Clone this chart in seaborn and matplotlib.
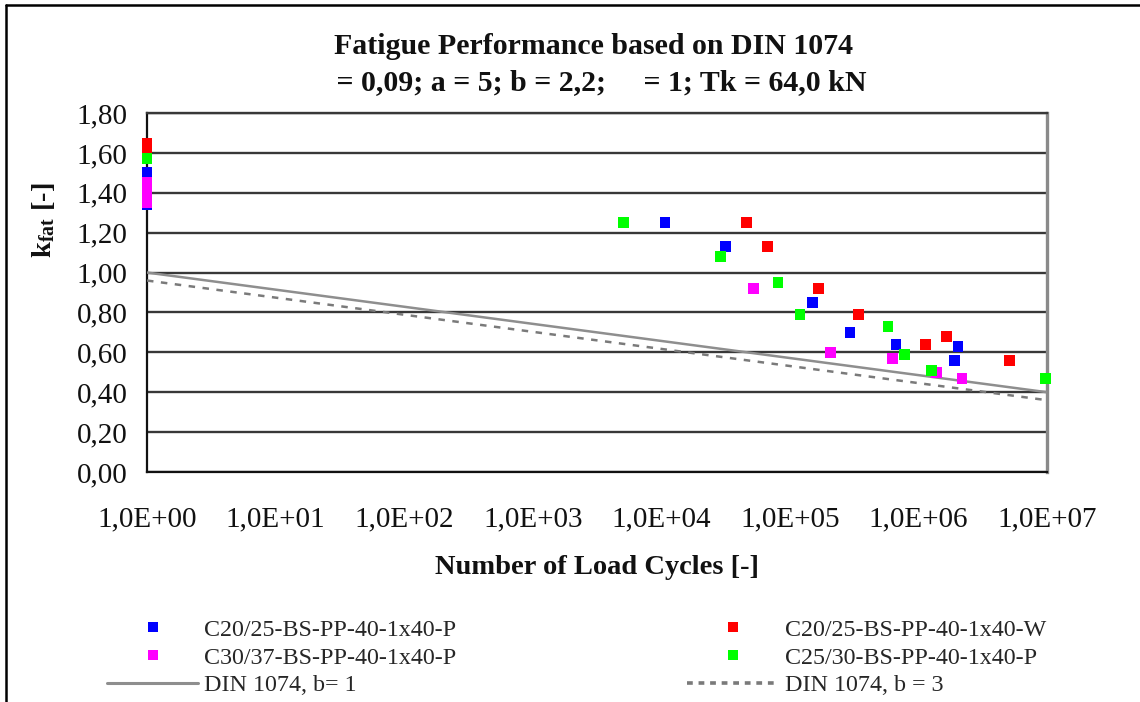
import numpy as np
import pandas as pd
import seaborn as sns
import matplotlib
matplotlib.use("Agg")
import matplotlib.pyplot as plt
from matplotlib.lines import Line2D
from matplotlib.ticker import FixedLocator, FuncFormatter, NullLocator

# ---- test series: number of load cycles vs. fatigue factor ----
series_names = [
    "C20/25-BS-PP-40-1x40-P",
    "C20/25-BS-PP-40-1x40-W",
    "C30/37-BS-PP-40-1x40-P",
    "C25/30-BS-PP-40-1x40-P",
]
series_colors = ["#0000FF", "#FF0000", "#FF00FF", "#00FF00"]

blue_cycles = [1, 1, 10700, 31700, 151000, 293000, 668000, 1.91e6, 2.03e6]
blue_kfat = [1.50, 1.34, 1.25, 1.13, 0.85, 0.70, 0.64, 0.56, 0.63]

red_cycles = [1, 1, 46000, 67000, 168000, 344000, 1.14e6, 1.66e6, 5.1e6]
red_kfat = [1.65, 1.62, 1.25, 1.13, 0.92, 0.79, 0.64, 0.68, 0.56]

magenta_cycles = [1, 1, 1, 52000, 208000, 632000, 1.39e6, 2.18e6]
magenta_kfat = [1.45, 1.40, 1.35, 0.92, 0.60, 0.57, 0.50, 0.47]

green_cycles = [1, 5100, 28700, 81000, 120000, 580000, 780000, 1.27e6, 9.7e6]
green_kfat = [1.57, 1.25, 1.08, 0.95, 0.79, 0.73, 0.59, 0.51, 0.47]

# ---- DIN 1074 design curves ----
din_cycles = [1, 1e7]
din_b1 = [1.00, 0.40]
din_b3 = [0.96, 0.36]

x_ticks = [1e0, 1e1, 1e2, 1e3, 1e4, 1e5, 1e6, 1e7]
y_ticks = [0.0, 0.2, 0.4, 0.6, 0.8, 1.0, 1.2, 1.4, 1.6, 1.8]

title_line1 = "Fatigue Performance based on DIN 1074"
title_line2 = " = 0,09; a = 5; b = 2,2;     = 1; Tk = 64,0 kN"

points = pd.concat(
    [
        pd.DataFrame({"cycles": c, "kfat": k, "series": name})
        for c, k, name in zip(
            [blue_cycles, red_cycles, magenta_cycles, green_cycles],
            [blue_kfat, red_kfat, magenta_kfat, green_kfat],
            series_names,
        )
    ],
    ignore_index=True,
)
curves = pd.DataFrame({"cycles": din_cycles, "b1": din_b1, "b3": din_b3})

sns.set_theme(style="white")
plt.rcParams["font.family"] = ["Liberation Serif", "DejaVu Serif"]
plt.rcParams["mathtext.fontset"] = "custom"
plt.rcParams["mathtext.rm"] = "Liberation Serif"
plt.rcParams["mathtext.bf"] = "Liberation Serif:bold"
plt.rcParams["mathtext.it"] = "Liberation Serif:italic"

fig = plt.figure(figsize=(11.4, 7.02), dpi=100)
ax = fig.add_axes([147 / 1140, 1 - 472 / 702, 900 / 1140, 359 / 702])

# design curves
sns.lineplot(data=curves, x="cycles", y="b1", ax=ax, color="#8e8e8e",
             linewidth=1.8, zorder=3)
sns.lineplot(data=curves, x="cycles", y="b3", ax=ax, color="#7a7a7a",
             linewidth=1.8, dashes=False, zorder=3)
ax.lines[-1].set_dashes((2.6, 3.0))

# measured points
sns.scatterplot(data=points, x="cycles", y="kfat", hue="series",
                hue_order=series_names, palette=series_colors, marker="s",
                s=60, linewidth=0, ax=ax, legend=False, zorder=4,
                clip_on=False)

ax.set_xscale("log")
ax.set_xlim(1, 1e7)
ax.set_ylim(0, 1.8)

ax.xaxis.set_major_locator(FixedLocator(x_ticks))
ax.xaxis.set_minor_locator(NullLocator())
ax.xaxis.set_major_formatter(
    FuncFormatter(lambda v, p: "1,0E+%02d" % int(round(np.log10(v))))
)
ax.yaxis.set_major_locator(FixedLocator(y_ticks))
ax.yaxis.set_major_formatter(FuncFormatter(lambda v, p: f"{v:.2f}".replace(".", ",")))

ax.grid(axis="y", color="#383838", linewidth=1.7, zorder=1)
ax.grid(axis="x", visible=False)
ax.set_axisbelow(True)

ax.tick_params(axis="both", which="major", direction="out", length=6,
               width=1.4, color="#222222", labelsize=21, labelcolor="#111111")
ax.tick_params(axis="x", pad=19)
ax.tick_params(axis="y", pad=8)

for side in ["left", "bottom"]:
    ax.spines[side].set_color("#111111")
    ax.spines[side].set_linewidth(1.6)
ax.spines["right"].set_color("#8a8a8a")
ax.spines["right"].set_linewidth(2.4)
ax.spines["top"].set_color("#383838")
ax.spines["top"].set_linewidth(1.7)

ax.set_xlabel("Number of Load Cycles [-]", fontsize=20.5, fontweight="bold",
              color="#111111")
ax.xaxis.set_label_coords(0.5, -0.232)
ax.set_ylabel(r"$\mathbf{k_{fat}}$ [-]", fontsize=20.5, fontweight="bold",
              color="#111111")
ax.yaxis.set_label_coords(-0.100, 0.70)

fig.text(594 / 1140, 1 - 47 / 702, title_line1, ha="center", va="center",
         fontsize=21.5, fontweight="bold", color="#111111")
fig.text(598 / 1140, 1 - 83 / 702, title_line2, ha="center", va="center",
         fontsize=21.5, fontweight="bold", color="#111111")

# legend below the plot, two columns
h_blue = Line2D([], [], linestyle="none", marker="s", markersize=7,
                markerfacecolor=series_colors[0], markeredgewidth=0)
h_red = Line2D([], [], linestyle="none", marker="s", markersize=7,
               markerfacecolor=series_colors[1], markeredgewidth=0)
h_mag = Line2D([], [], linestyle="none", marker="s", markersize=7,
               markerfacecolor=series_colors[2], markeredgewidth=0)
h_green = Line2D([], [], linestyle="none", marker="s", markersize=7,
                 markerfacecolor=series_colors[3], markeredgewidth=0)
h_b1 = Line2D([], [], color="#8e8e8e", linewidth=2.2)
h_b3 = Line2D([], [], color="#7a7a7a", linewidth=2.6, dashes=(1.6, 1.6))

handles = [h_blue, h_mag, h_b1, h_red, h_green, h_b3]
labels = [series_names[0], series_names[2], "DIN 1074, b= 1",
          series_names[1], series_names[3], "DIN 1074, b = 3"]
fig.legend(handles, labels, ncol=2, loc="upper left",
           bbox_to_anchor=(107 / 1140, 1 - 619 / 702), frameon=False,
           fontsize=17.3, handlelength=3.8, handletextpad=0.25,
           columnspacing=9.6, labelspacing=0.25, borderpad=0,
           borderaxespad=0)

# outer frame (top and left edges)
fig.add_artist(Line2D([6 / 1140, 6 / 1140], [0, 1 - 5 / 702],
                      transform=fig.transFigure, color="black", linewidth=1.8))
fig.add_artist(Line2D([6 / 1140, 1], [1 - 5 / 702, 1 - 5 / 702],
                      transform=fig.transFigure, color="black", linewidth=1.8))

fig.savefig("out.png", dpi=100, facecolor="white")
